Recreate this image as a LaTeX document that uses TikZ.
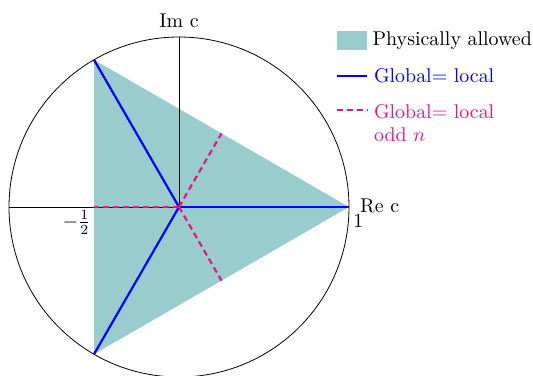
\documentclass[tikz,border=0pt]{standalone}
\usepackage{tikz}
\usetikzlibrary{positioning, calc}
\definecolor{oddpink}{RGB}{230,20,140}

\begin{document}
\begin{tikzpicture}[
    allowed/.style={fill=teal!40, draw=none},
    globline/.style={blue, line width=1.1pt},
    oddline/.style={oddpink, line width=1.1pt, dash pattern=on 3pt off 2pt},
    legtext/.style={anchor=west, align=left, inner sep=1pt},
    axlabel/.style={inner sep=0pt}
]
\useasboundingbox (-3.159,-2.982) rectangle (6.247,3.653);
\coordinate (O) at (0,0);
\coordinate (A) at (0:3);
\coordinate (B) at (120:3);
\coordinate (C) at (240:3);
\coordinate (H) at (-1.5,0);
\coordinate (L) at (-3,0);
\coordinate (T) at (0,3);
\coordinate (M1) at (60:1.5);
\coordinate (M2) at (300:1.5);

% allowed region and unit circle
\fill[allowed] (A) -- (B) -- (C) -- cycle;
\draw (O) circle (3);
\draw (L) -- (A);
\draw (O) -- (T);

% lines
\draw[globline] (O) -- (A);
\draw[globline] (O) -- (B);
\draw[globline] (O) -- (C);
\draw[oddline] (O) -- (H);
\draw[oddline] (O) -- (M1);
\draw[oddline] (O) -- (M2);

\node[axlabel, above=0.16cm of T] (imlab) {Im c};
\node[axlabel, anchor=base west] (relab) at ($(A)+(0.19,-0.09)$) {Re c};
\node[axlabel, anchor=north west] (onelab) at ($(A)+(0.07,-0.12)$) {1};
\node[axlabel, anchor=north east] (halflab) at ($(H)+(-0.05,-0.06)$) {$-\frac{1}{2}$};

% legend
\node[allowed, minimum width=0.53cm, minimum height=0.335cm, inner sep=0pt] (legbox) at (3.053,2.938) {};
\node[legtext, right=0.05cm of legbox] (legallowed) {Physically allowed};
\coordinate (g1) at (2.788,2.312);
\coordinate (g2) at (3.317,2.312);
\draw[globline] (g1) -- (g2);
\node[legtext, blue] (legglob) at (3.40,2.312) {Global= local};
\coordinate (d1) at (2.788,1.712);
\coordinate (d2) at (3.317,1.712);
\draw[oddline] (d1) -- (d2);
\node[legtext, oddpink, anchor=north west, inner sep=1pt] (legodd) at (3.40,1.86) {Global= local\\odd $n$};
\end{tikzpicture}
\end{document}
